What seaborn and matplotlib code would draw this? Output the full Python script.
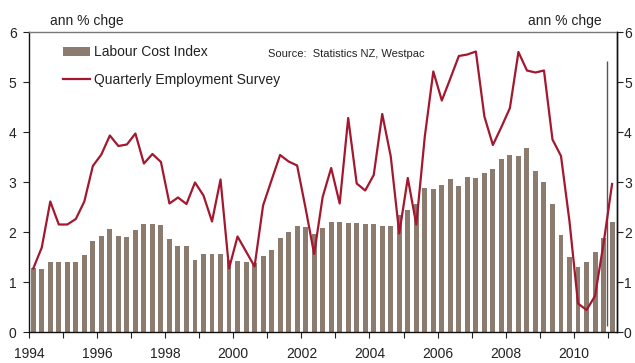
import numpy as np
import pandas as pd
import matplotlib
matplotlib.use("Agg")
import matplotlib.pyplot as plt
import seaborn as sns
from matplotlib.patches import Patch
from matplotlib.lines import Line2D

# Quarterly data, 1994 Q1 .. 2011 Q1 (annual % change)
quarters = [f"{y}Q{q}" for y in range(1994, 2012) for q in range(1, 5)][:69]
lci = [1.29, 1.27, 1.41, 1.41, 1.41, 1.41, 1.55, 1.82, 1.93, 2.07,
       1.93, 1.91, 2.05, 2.17, 2.17, 2.14, 1.87, 1.73, 1.73, 1.45,
       1.57, 1.57, 1.57, 1.44, 1.43, 1.41, 1.39, 1.52, 1.65, 1.88,
       2.01, 2.13, 2.11, 1.97, 2.09, 2.20, 2.20, 2.18, 2.18, 2.16,
       2.16, 2.13, 2.13, 2.34, 2.45, 2.56, 2.89, 2.86, 2.95, 3.07,
       2.92, 3.11, 3.09, 3.18, 3.27, 3.46, 3.55, 3.52, 3.68, 3.23,
       3.00, 2.56, 1.95, 1.51, 1.31, 1.40, 1.61, 1.89, 2.20]
qes = [1.27, 1.69, 2.61, 2.15, 2.15, 2.26, 2.61, 3.32, 3.55, 3.93,
       3.72, 3.75, 3.97, 3.37, 3.56, 3.40, 2.57, 2.69, 2.56, 2.99,
       2.73, 2.21, 3.05, 1.27, 1.91, 1.61, 1.31, 2.53, 3.04, 3.54,
       3.41, 3.33, 2.47, 1.56, 2.70, 3.28, 2.57, 4.28, 2.97, 2.83,
       3.14, 4.36, 3.51, 1.97, 3.08, 2.15, 3.91, 5.21, 4.63, 5.07,
       5.52, 5.55, 5.61, 4.31, 3.74, 4.10, 4.48, 5.60, 5.23, 5.19,
       5.23, 3.85, 3.52, 2.21, 0.57, 0.44, 0.72, 1.77, 2.96]
year_ticks = list(range(1994, 2012))
year_labels = [str(y) if y % 2 == 0 else "" for y in year_ticks]

pos = [1994.125 + 0.25 * i for i in range(len(quarters))]
df = pd.DataFrame({"quarter": quarters, "t": pos, "LCI": lci, "QES": qes})

bar_col = "#8C7C6F"
line_col = "#A3182F"
txt_col = "#222222"

plt.rcParams["font.family"] = ["Liberation Sans", "DejaVu Sans"]
fig = plt.figure(figsize=(6.35, 3.63), dpi=100)
ax = fig.add_axes([29 / 635, 31 / 363, 588 / 635, 300 / 363])

sns.barplot(data=df, x="t", y="LCI", native_scale=True, width=0.58,
            color=bar_col, saturation=1, edgecolor="none", ax=ax, zorder=2)
sns.lineplot(data=df, x="t", y="QES", color=line_col, linewidth=1.6,
             ax=ax, zorder=4)
ax.vlines(2010.97, 0.12, 5.43, color="#555555", linewidth=1.0, zorder=3)

ax.set_xlim(1994.0, 2011.27)
ax.set_ylim(0, 6)
ax.set_xticks(year_ticks)
ax.set_xticklabels(year_labels)
ax.set_yticks(range(0, 7))
ax.set_xlabel("")
ax.set_ylabel("")
ax.tick_params(axis="y", left=True, right=False, labelleft=True,
               labelright=False, length=4, width=0.8, direction="out",
               labelsize=10, pad=5, colors=txt_col)
ax.tick_params(axis="x", length=4, width=0.8, direction="out",
               labelsize=10, pad=7, colors=txt_col)
for side in ["left", "right", "bottom"]:
    ax.spines[side].set_color("#111111")
    ax.spines[side].set_linewidth(1.0)
ax.spines["top"].set_color("#7a7a7a")
ax.spines["top"].set_linewidth(1.0)
ax.set_facecolor("white")
ax.grid(False)

# right-hand axis (same scale)
ax2 = ax.twinx()
ax2.set_ylim(0, 6)
ax2.set_yticks(range(0, 7))
ax2.tick_params(axis="y", length=4, width=0.8, direction="out",
                labelsize=10, pad=1, colors=txt_col)
for side in ["left", "top", "bottom"]:
    ax2.spines[side].set_visible(False)
ax2.spines["right"].set_color("#111111")
ax2.spines["right"].set_linewidth(1.0)

handles = [Patch(facecolor=bar_col, edgecolor="none"),
           Line2D([0], [0], color=line_col, linewidth=1.6)]
leg = ax.legend(handles, ["Labour Cost Index", "Quarterly Employment Survey"],
                loc="upper left", bbox_to_anchor=(0.057, 0.955),
                frameon=False, fontsize=10, handlelength=2.0,
                handleheight=0.6, handletextpad=0.3, labelspacing=0.95,
                borderpad=0, borderaxespad=0)
for txt in leg.get_texts():
    txt.set_color(txt_col)

fig.text(268 / 635, 1 - 54 / 363, "Source:  Statistics NZ, Westpac",
         fontsize=8, va="center", ha="left", color=txt_col)
fig.text(50 / 635, 1 - 21 / 363, "ann % chge", fontsize=10,
         va="center", ha="left", color=txt_col)
fig.text(602 / 635, 1 - 21 / 363, "ann % chge", fontsize=10,
         va="center", ha="right", color=txt_col)

fig.savefig("out.png", dpi=100, facecolor="white")
